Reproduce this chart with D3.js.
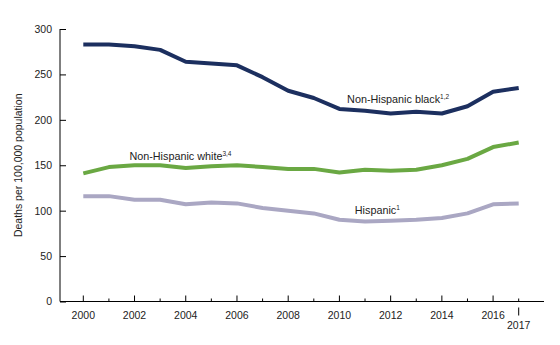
<!DOCTYPE html>
<html>
<head>
<meta charset="utf-8">
<script src="https://cdn.jsdelivr.net/npm/d3@7"></script>
<style>
  body { margin: 0; background: #fff; }
  svg { font-family: "Liberation Sans", Arial, sans-serif; }
</style>
</head>
<body>
<div class="container"></div>
<script>
const years = d3.range(2000, 2018);
const black = [283, 283, 281, 277, 264, 262, 260, 247, 232, 224, 212, 210, 207, 209, 207, 215, 231, 235];
const white = [141, 148, 150, 150, 147, 149, 150, 148, 146, 146, 142, 145, 144, 145, 150, 157, 170, 175];
const hispanic = [116, 116, 112, 112, 107, 109, 108, 103, 100, 97, 90, 88, 89, 90, 92, 97, 107, 108];
const yTicks = [0, 50, 100, 150, 200, 250, 300];
const xLabelYears = [2000, 2002, 2004, 2006, 2008, 2010, 2012, 2014, 2016];

const series = [
  { name: 'Non-Hispanic black', sup: '1,2', values: black, color: '#1c2f5f', labelYear: 2010.3, labelValue: 218 },
  { name: 'Non-Hispanic white', sup: '3,4', values: white, color: '#6aa843', labelYear: 2001.8, labelValue: 156 },
  { name: 'Hispanic', sup: '1', values: hispanic, color: '#aaa7c3', labelYear: 2010.6, labelValue: 96 },
];

const width = 560;
const height = 345;

const svg = d3
  .select('.container')
  .append('svg')
  .attr('width', width)
  .attr('height', height);

const xScale = d3.scaleLinear().domain([2000, 2017]).range([83.3, 518.7]);
const yScale = d3.scaleLinear().domain([0, 300]).range([301.5, 29]);

// y axis, ticks pointing into the plot
const yAxis = d3.axisRight(yScale).tickValues(yTicks).tickSize(6).tickFormat(d3.format('d'));
const gy = svg.append('g').attr('transform', 'translate(60,0)').call(yAxis);
gy.select('.domain').attr('d', `M0,${yScale(300)}V${yScale(0)}`).attr('stroke', '#000');
gy.selectAll('.tick line').attr('stroke', '#000');
gy.selectAll('.tick text')
  .attr('x', -8)
  .attr('text-anchor', 'end')
  .attr('font-size', 10.5)
  .attr('fill', '#222');

// x axis line
svg
  .append('line')
  .attr('x1', 60)
  .attr('x2', 544)
  .attr('y1', yScale(0))
  .attr('y2', yScale(0))
  .attr('stroke', '#000');

// x ticks: major on even years, shorter minor ones
const gx = svg.append('g');
gx.selectAll('line.xt')
  .data(years)
  .enter()
  .append('line')
  .attr('x1', (d) => xScale(d))
  .attr('x2', (d) => xScale(d))
  .attr('y1', yScale(0))
  .attr('y2', (d) => yScale(0) - (d % 2 === 0 ? 6 : 3))
  .attr('stroke', '#000');

gx.selectAll('text.xl')
  .data(xLabelYears)
  .enter()
  .append('text')
  .attr('x', (d) => xScale(d))
  .attr('y', yScale(0) + 17)
  .attr('text-anchor', 'middle')
  .attr('font-size', 10.5)
  .attr('fill', '#222')
  .text((d) => d);

// 2017 marker below axis
gx.append('line')
  .attr('x1', xScale(2017))
  .attr('x2', xScale(2017))
  .attr('y1', yScale(0) + 6)
  .attr('y2', yScale(0) + 14)
  .attr('stroke', '#000');
gx.append('text')
  .attr('x', xScale(2017))
  .attr('y', yScale(0) + 27)
  .attr('text-anchor', 'middle')
  .attr('font-size', 10.5)
  .attr('fill', '#222')
  .text(2017);

// y label
svg
  .append('text')
  .attr('transform', `translate(22,${(yScale(0) + yScale(300)) / 2}) rotate(-90)`)
  .attr('text-anchor', 'middle')
  .attr('font-size', 10.5)
  .attr('fill', '#222')
  .text('Deaths per 100,000 population');

const line = d3
  .line()
  .x((d, i) => xScale(years[i]))
  .y((d) => yScale(d));

series.forEach((s) => {
  svg
    .append('path')
    .datum(s.values)
    .attr('d', line)
    .attr('fill', 'none')
    .attr('stroke', s.color)
    .attr('stroke-width', 4)
    .attr('stroke-linejoin', 'round');

  const t = svg
    .append('text')
    .attr('x', xScale(s.labelYear))
    .attr('y', yScale(s.labelValue))
    .attr('font-size', 10.8)
    .attr('fill', '#222')
    .text(s.name);
  t.append('tspan').attr('font-size', 6.5).attr('dy', -4).text(s.sup);
});
</script>
</body>
</html>
